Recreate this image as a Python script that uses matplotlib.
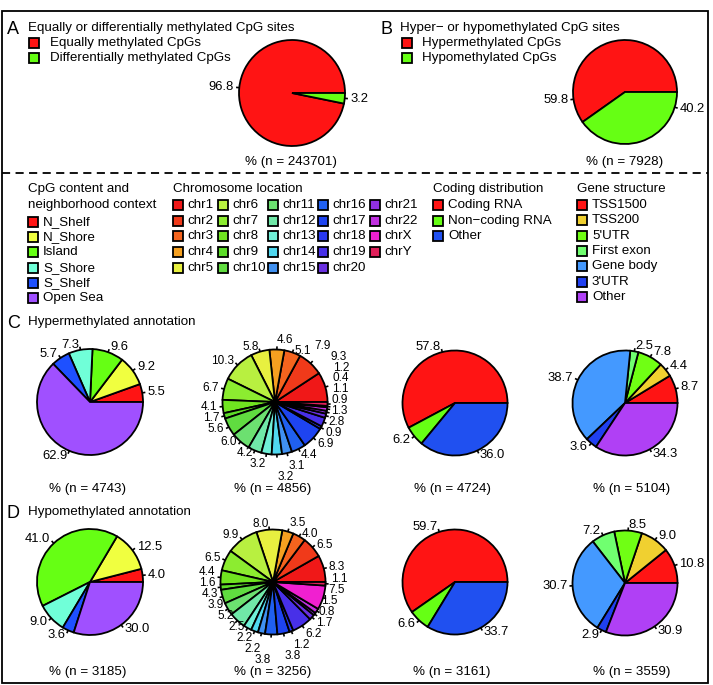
import matplotlib
matplotlib.use('Agg')
import matplotlib.pyplot as plt
from matplotlib.patches import Rectangle
from matplotlib.lines import Line2D
import numpy as np

W, H = 713, 685
plt.rcParams['font.family'] = ['Liberation Sans', 'DejaVu Sans']

# ---------------- data ----------------
labels_A = ['Equally methylated CpGs', 'Differentially methylated CpGs']
values_A = [96.8, 3.2]
n_A = 243701

labels_B = ['Hypermethylated CpGs', 'Hypomethylated CpGs']
values_B = [59.8, 40.2]
n_B = 7928

cpg_categories = ['N_Shelf', 'N_Shore', 'Island', 'S_Shore', 'S_Shelf', 'Open Sea']
cpg_hyper = [5.5, 9.2, 9.6, 7.3, 5.7, 62.9]
cpg_hypo = [4.0, 12.5, 41.0, 9.0, 3.6, 30.0]

chrom_categories = ['chr%d' % i for i in range(1, 23)] + ['chrX', 'chrY']
chrom_hyper = [9.3, 7.9, 5.1, 4.6, 5.8, 10.3, 6.7, 4.1, 1.7, 5.6, 6.0, 4.2,
               3.2, 3.2, 3.1, 4.4, 6.9, 0.9, 2.8, 1.3, 0.9, 1.1, 0.4, 1.2]
chrom_hypo = [8.3, 6.5, 4.0, 3.5, 8.0, 9.9, 6.5, 4.4, 1.6, 4.3, 3.9, 5.2,
              2.5, 2.2, 2.2, 3.8, 3.8, 1.2, 6.2, 1.7, 0.8, 1.5, 7.5, 1.1]

coding_categories = ['Coding RNA', 'Non\u2212coding RNA', 'Other']
coding_hyper = [57.8, 6.2, 36.0]
coding_hypo = [59.7, 6.6, 33.7]

gene_categories = ['TSS1500', 'TSS200', "5'UTR", 'First exon', 'Gene body', "3'UTR", 'Other']
gene_hyper = [8.7, 4.4, 7.8, 2.5, 38.7, 3.6, 34.3]
gene_hypo = [10.8, 9.0, 8.5, 7.2, 30.7, 2.9, 30.9]

n_hyper = [4743, 4856, 4724, 5104]
n_hypo = [3185, 3256, 3161, 3559]

# ---------------- styles ----------------
col_AB = ['#FF1414', '#66FF14']
col_cpg = ['#FF1414', '#F0FF40', '#66FF14', '#70FFD8', '#1E50FF', '#A050FF']
col_chrom = ['#F01818', '#F03A1A', '#F5641E', '#F5A020', '#E8F040', '#B8F040',
             '#8CEC30', '#70E420', '#5CDC28', '#60DC40', '#6CE070', '#70E8A8',
             '#70F0D8', '#50D8F0', '#4090F0', '#2060F0', '#1E44F0', '#2838F0',
             '#4830E8', '#6A30E0', '#9030E0', '#C030E0', '#F020D0', '#E0205A']
col_coding = ['#FF1414', '#66FF14', '#2050F0']
col_gene = ['#FF1414', '#F0D030', '#70FF14', '#70FF70', '#4499FF', '#2040F0', '#B040F5']

FS = 9.6
FS_LAB = 9.4
FS_CHR = 8.5
FS_LET = 13
EDGE_LW = 1.3

fig = plt.figure(figsize=(W / 100, H / 100), dpi=100)
ax = fig.add_axes([0, 0, 1, 1])
ax.set_xlim(0, W)
ax.set_ylim(0, H)
ax.axis('off')
ax.set_autoscale_on(False)


def Y(y):
    return H - y


def txt(x, y, s, size=FS, ha='left', va='center', **kw):
    return ax.text(x, Y(y), s, fontsize=size, ha=ha, va=va, **kw)


renderer = fig.canvas.get_renderer()


def draw_pie(cx, cy, r, values, colors, fs=FS_LAB, angles=None, repel=False,
             obstacles=()):
    ax.pie(values, colors=colors, startangle=0, counterclock=True,
           center=(cx, Y(cy)), radius=r, frame=True,
           wedgeprops=dict(edgecolor='black', linewidth=EDGE_LW))
    ax.set_xlim(0, W)
    ax.set_ylim(0, H)
    v = np.asarray(values, float)
    frac = v / v.sum()
    cum = np.concatenate([[0], np.cumsum(frac)])
    mids = (cum[:-1] + cum[1:]) / 2 * 2 * np.pi
    if angles is not None:
        mids = np.radians(angles)
    items = []
    for val, a in zip(values, mids):
        c, s = np.cos(a), np.sin(a)
        ax.add_line(Line2D([cx + r * c, cx + 1.06 * r * c],
                           [Y(cy - r * s), Y(cy - 1.06 * r * s)],
                           color='black', lw=1.2, solid_capstyle='butt'))
        ha = 'left' if c >= 0 else 'right'
        t = txt(cx + 1.1 * r * c, cy - 1.1 * r * s, '%.1f' % val, size=fs, ha=ha)
        items.append(t)
    if repel:
        xs = []
        for t in items:
            bb = t.get_window_extent(renderer)
            xs.append((bb.x0, bb.x1))
        ys = np.array([t.get_position()[1] for t in items], float)
        ynat = ys.copy()
        obs = []
        for o in obstacles:
            bb = o.get_window_extent(renderer)
            obs.append((bb.x0, bb.x1, bb.y0, bb.y1))
        h = 10.9
        n = len(items)
        for it in range(800):
            moved = False
            for i in range(n):
                for j in range(i + 1, n):
                    ox = min(xs[i][1], xs[j][1]) - max(xs[i][0], xs[j][0]) + 1
                    oy = h - abs(ys[i] - ys[j])
                    if ox > 0 and oy > 0.01:
                        d = oy / 2 + 0.02
                        if (ynat[i], -i) > (ynat[j], -j):
                            ys[i] += d; ys[j] -= d
                        else:
                            ys[i] -= d; ys[j] += d
                        moved = True
            for i in range(n):
                for (fx0, fx1, fy0, fy1) in obs:
                    ox = min(xs[i][1], fx1) - max(xs[i][0], fx0)
                    lo, hi = ys[i] - h / 2, ys[i] + h / 2
                    oy = min(hi, fy1 + 1) - max(lo, fy0 - 1)
                    if ox > 0 and oy > 0.01:
                        if ys[i] >= (fy0 + fy1) / 2:
                            ys[i] += oy + 0.02
                        else:
                            ys[i] -= oy + 0.02
                        moved = True
            if not moved:
                break
        for t, yy in zip(items, ys):
            x0 = t.get_position()[0]
            t.set_position((x0, yy))


def legend_box(x, y, color, size=10):
    ax.add_patch(Rectangle((x, Y(y) - size / 2), size, size, facecolor=color,
                           edgecolor='black', linewidth=1.3))


# ---------------- frame ----------------
ax.add_patch(Rectangle((2, Y(683)), 706, 672, fill=False, edgecolor='black', linewidth=1.3))
ax.add_line(Line2D([2, 708], [Y(173), Y(173)], color='black', lw=1.3, dashes=(4.5, 3)))

# ---------------- panel A ----------------
txt(7, 29, 'A', size=FS_LET)
txt(28, 28, 'Equally or differentially methylated CpG sites')
for i, (lab, c) in enumerate(zip(labels_A, col_AB)):
    legend_box(29, 43 + 15 * i, c)
    txt(50, 43 + 15 * i, lab)
draw_pie(292, 93, 53, values_A, col_AB)
txt(291, 162, '%% (n = %d)' % n_A, ha='center')

# ---------------- panel B ----------------
txt(381, 29, 'B', size=FS_LET)
txt(400, 28, 'Hyper\u2212 or hypomethylated CpG sites')
for i, (lab, c) in enumerate(zip(labels_B, col_AB)):
    legend_box(402, 43 + 15 * i, c)
    txt(422, 43 + 15 * i, lab)
draw_pie(625, 92, 52, values_B, col_AB, angles=[188, 343])
txt(625, 162, '%% (n = %d)' % n_B, ha='center')

# ---------------- legends for C/D ----------------
txt(28, 189, 'CpG content and')
txt(28, 205, 'neighborhood context')
for i, (lab, c) in enumerate(zip(cpg_categories, col_cpg)):
    legend_box(28, 222 + 15.2 * i, c)
    txt(43, 222 + 15.2 * i, lab)

txt(173, 189, 'Chromosome location')
col_x = [173, 218, 268, 318, 370]
for i, (lab, c) in enumerate(zip(chrom_categories, col_chrom)):
    cx_ = col_x[i // 5]
    cy_ = 205 + 15.7 * (i % 5)
    legend_box(cx_, cy_, c)
    txt(cx_ + 14, cy_, lab)

txt(433, 189, 'Coding distribution')
for i, (lab, c) in enumerate(zip(coding_categories, col_coding)):
    legend_box(433, 205 + 15.5 * i, c)
    txt(448, 205 + 15.5 * i, lab)

txt(577, 189, 'Gene structure')
for i, (lab, c) in enumerate(zip(gene_categories, col_gene)):
    legend_box(577, 205 + 15.3 * i, c)
    txt(592, 205 + 15.3 * i, lab)

# ---------------- panel C ----------------
txt(7, 323, 'C', size=FS_LET)
txt(28, 322, 'Hypermethylated annotation')
foot_c = [txt(x, 489, '%% (n = %d)' % n, ha='center')
          for x, n in zip([88, 273, 452, 632], n_hyper)]
draw_pie(90, 402, 53, cpg_hyper, col_cpg)
draw_pie(275, 402, 52.5, chrom_hyper, col_chrom, fs=FS_CHR, repel=True,
         obstacles=[foot_c[1]])
draw_pie(455, 403, 52.5, coding_hyper, col_coding)
draw_pie(625, 403, 52.5, gene_hyper, col_gene)

# ---------------- panel D ----------------
txt(7, 513, 'D', size=FS_LET)
txt(28, 512, 'Hypomethylated annotation')
foot_d = [txt(x, 672, '%% (n = %d)' % n, ha='center')
          for x, n in zip([88, 273, 452, 632], n_hypo)]
draw_pie(90, 582, 53, cpg_hypo, col_cpg)
draw_pie(273, 582, 52.5, chrom_hypo, col_chrom, fs=FS_CHR, repel=True,
         obstacles=[foot_d[1]])
draw_pie(455, 582, 52.5, coding_hypo, col_coding)
draw_pie(625, 583, 52.5, gene_hypo, col_gene)

ax.set_xlim(0, W)
ax.set_ylim(0, H)
fig.savefig('out.png', dpi=100)
